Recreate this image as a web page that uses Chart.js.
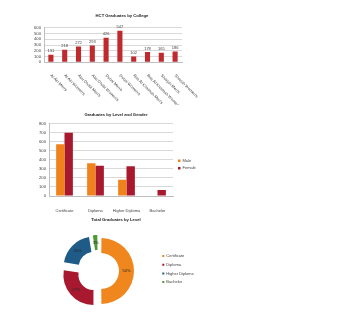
<!DOCTYPE html>
<html><head><meta charset="utf-8">
<script src="https://cdn.jsdelivr.net/npm/chart.js@4.4.1/dist/chart.umd.min.js"></script>
<style>
html,body{margin:0;padding:0;background:#fff;width:337px;height:314px;overflow:hidden;position:relative}
canvas{position:absolute}
</style></head><body>
<canvas id="c1" width="244" height="105" style="left:0;top:0;width:244px;height:105px"></canvas>
<canvas id="c2" width="232" height="123" style="left:0;top:103px;width:232px;height:123px"></canvas>
<canvas id="c3" width="210" height="104" style="left:0;top:210px;width:210px;height:104px"></canvas>
<script>
// ---- data ----
const collegeLabels = ["Al Ain Men's", "Al Ain Women's", "Abu Dhabi Men's", "Abu Dhabi Women's", "Dubai Men's", "Dubai Women's", "Ras Al Khaimah Men's", "Ras Al Khaimah Women's", "Sharjah Men's", "Sharjah Women's"];
const collegeGraduates = [131, 218, 272, 293, 426, 547, 102, 178, 165, 186];
const collegeYMax = 600, collegeYStep = 100;

const levelLabels = ['Certificate', 'Diploma', 'Higher Diploma', 'Bachelor'];
const genderLabels = ['Male', 'Female'];
const maleGraduates = [572, 362, 180, 0];
const femaleGraduates = [700, 335, 328, 66];
const levelYMax = 800, levelYStep = 100;

// donut totals derived from the level/gender series
const levelTotals = levelLabels.map((_, i) => maleGraduates[i] + femaleGraduates[i]);
const grandTotal = levelTotals.reduce((a, b) => a + b, 0);

// ---- styles ----
const FONT = "'Liberation Sans', Arial, sans-serif";
Chart.defaults.font.family = FONT;
Chart.defaults.color = '#404040';
const GRID = '#D9D9D9', AXIS = '#BFBFBF';
const explode = 6; // px each donut slice is pulled out
const sliceOffsets = levelTotals.map(v => {
  const c = v / grandTotal * 2 * Math.PI;
  return 4 * explode / (2 - Math.sin(Math.min(Math.PI, c)));
});

const valueLabels = {
  id: 'valueLabels',
  afterDatasetsDraw(chart) {
    const ctx = chart.ctx, meta = chart.getDatasetMeta(0), ds = chart.data.datasets[0];
    ctx.save();
    ctx.font = '4px ' + FONT; ctx.fillStyle = '#404040';
    ctx.textAlign = 'center'; ctx.textBaseline = 'bottom';
    meta.data.forEach((bar, i) => ctx.fillText(String(ds.data[i]), bar.x, bar.y - 1.6));
    ctx.restore();
  }
};
const pctLabels = {
  id: 'pctLabels',
  afterDatasetsDraw(chart) {
    const ctx = chart.ctx, meta = chart.getDatasetMeta(0), ds = chart.data.datasets[0];
    ctx.save();
    ctx.font = '4px ' + FONT; ctx.fillStyle = '#262626';
    ctx.textAlign = 'center'; ctx.textBaseline = 'middle';
    meta.data.forEach((arc, i) => {
      const mid = (arc.startAngle + arc.endAngle) / 2;
      const r = (arc.innerRadius + arc.outerRadius) / 2 + explode;
      ctx.fillText(Math.round(ds.data[i] / grandTotal * 100) + '%', arc.x + Math.cos(mid) * r, arc.y + Math.sin(mid) * r);
    });
    ctx.restore();
  }
};
const padAxis = w => ({ type: 'linear', axis: 'y', position: 'right', grid: { display: false }, ticks: { display: false }, border: { display: false }, afterFit(s) { s.width = w; } });
const titleOpts = (text, top, bottom) => ({ display: true, text, color: '#1a1a1a', font: { size: 4.2, weight: 'bold', lineHeight: 1.2 }, padding: { top, bottom } });

// ---- chart 1 ----
new Chart(document.getElementById('c1'), {
  type: 'bar',
  data: { labels: collegeLabels, datasets: [{ data: collegeGraduates, backgroundColor: '#BE2A2E', barPercentage: 0.37, categoryPercentage: 1 }] },
  options: {
    responsive: false, animation: false, events: [],
    plugins: { legend: { display: false }, tooltip: { enabled: false }, title: titleOpts('HCT Graduates by College', 13.08, 9.58) },
    scales: {
      x: { grid: { display: false }, border: { color: AXIS }, ticks: { autoSkip: false, minRotation: -45, maxRotation: -45, padding: 3, font: { size: 4 } },
           afterFit(s) { s.height = 42.7; s._getXAxisLabelAlignment = () => 'left'; } },
      y: { min: 0, max: collegeYMax, ticks: { stepSize: collegeYStep, autoSkip: false, maxTicksLimit: 50, padding: 3, font: { size: 4.2 } }, grid: { color: GRID, drawTicks: false }, border: { color: AXIS },
           afterFit(s) { s.width = 44; } },
      pad: padAxis(62)
    }
  },
  plugins: [valueLabels]
});

// ---- chart 2 ----
new Chart(document.getElementById('c2'), {
  type: 'bar',
  data: { labels: levelLabels, datasets: [
    { label: genderLabels[0], data: maleGraduates, backgroundColor: '#F0821E', barPercentage: 1, categoryPercentage: 0.54 },
    { label: genderLabels[1], data: femaleGraduates, backgroundColor: '#A8182E', barPercentage: 1, categoryPercentage: 0.54 }
  ] },
  options: {
    responsive: false, animation: false, events: [],
    layout: { padding: { left: 32.6, right: 32.6 } },
    plugins: {
      tooltip: { enabled: false },
      legend: { position: 'right', maxWidth: 25, labels: { boxWidth: 2.5, boxHeight: 2.5, padding: 3.6, font: { size: 4 }, color: '#404040' } },
      title: titleOpts('Graduates by Level and Gender', 9.48, 6.18)
    },
    scales: {
      x: { grid: { display: false }, border: { color: AXIS }, ticks: { autoSkip: false, minRotation: 0, maxRotation: 0, padding: 4, font: { size: 4 } }, afterFit(s) { s.height = 30; } },
      y: { min: 0, max: levelYMax, ticks: { stepSize: levelYStep, autoSkip: false, maxTicksLimit: 50, padding: 3, font: { size: 4.2 } }, grid: { color: GRID, drawTicks: false }, border: { color: AXIS },
           afterFit(s) { s.width = 16.4; } },
      pad: padAxis(1.4)
    }
  }
});

// ---- chart 3 ----
new Chart(document.getElementById('c3'), {
  type: 'doughnut',
  data: { labels: levelLabels, datasets: [{ data: levelTotals, backgroundColor: ['#F0861E', '#A8192F', '#1E5B87', '#4C9A34'], borderWidth: 0, offset: sliceOffsets, radius: 30, cutout: '50%', clip: false }] },
  options: {
    responsive: false, animation: false, events: [],
    radius: 30, cutout: '50%',
    layout: { padding: { left: 38.4, right: 16.4, bottom: 21.3 } },
    plugins: {
      tooltip: { enabled: false },
      legend: { position: 'right', fullSize: false, align: 'start', maxWidth: 36, labels: { boxWidth: 2, boxHeight: 2, padding: 4.7, font: { size: 4 }, color: '#404040' } },
      title: titleOpts('Total Graduates by Level', 7.48, 26.78)
    }
  },
  plugins: [pctLabels]
});
</script>
</body></html>
